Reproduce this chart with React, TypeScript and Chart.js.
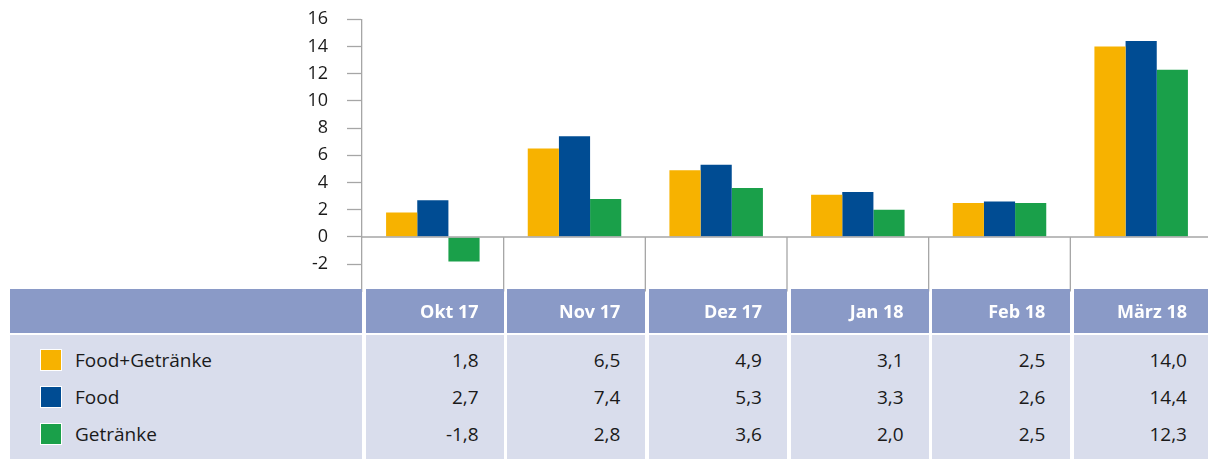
import React, { useEffect, useRef } from 'react';
import { Chart, registerables } from 'chart.js';

Chart.register(...registerables);

const categories = ['Okt 17', 'Nov 17', 'Dez 17', 'Jan 18', 'Feb 18', 'März 18'];
const seriesNames = ['Food+Getränke', 'Food', 'Getränke'];
const foodGetraenke = [1.8, 6.5, 4.9, 3.1, 2.5, 14.0];
const food = [2.7, 7.4, 5.3, 3.3, 2.6, 14.4];
const getraenke = [-1.8, 2.8, 3.6, 2.0, 2.5, 12.3];
const seriesColors = ['#F7B200', '#004C93', '#1AA04A'];
const yMin = -4;
const yMax = 16;
const yStep = 2;

const seriesValues = [foodGetraenke, food, getraenke];

const FONT = '"Open Sans", sans-serif';
const PLOT_LEFT = 362;
const PLOT_RIGHT = 1212;
const PLOT_TOP = 19.3;
const PLOT_BOTTOM = 291.4;
const CANVAS_W = 1214;
const CANVAS_H = 305;
const AXIS_GREY = '#a6a6a6';

const fmt = (v: number) => v.toFixed(1).replace('.', ',');

const separatorPlugin = {
  id: 'catSeparators',
  afterDatasetsDraw(chart: any) {
    const x = chart.scales.x;
    const y = chart.scales.y;
    const ctx = chart.ctx;
    const y0 = y.getPixelForValue(0);
    ctx.save();
    ctx.strokeStyle = AXIS_GREY;
    ctx.lineWidth = 1.3;
    for (let i = 1; i < categories.length; i++) {
      const px = (x.getPixelForTick(i - 1) + x.getPixelForTick(i)) / 2;
      ctx.beginPath();
      ctx.moveTo(px, y0);
      ctx.lineTo(px, chart.chartArea.bottom);
      ctx.stroke();
    }
    ctx.beginPath();
    ctx.moveTo(chart.chartArea.left, y0);
    ctx.lineTo(chart.chartArea.right, y0);
    ctx.stroke();
    ctx.restore();
  },
};

export default function App() {
  const canvasRef = useRef<HTMLCanvasElement | null>(null);

  useEffect(() => {
    const canvas = canvasRef.current;
    if (!canvas) return;
    const chart = new Chart(canvas, {
      type: 'bar',
      data: {
        labels: categories,
        datasets: seriesValues.map((vals, i) => ({
          label: seriesNames[i],
          data: vals,
          backgroundColor: seriesColors[i],
          borderWidth: 0,
          barPercentage: 1,
          categoryPercentage: 0.66,
        })),
      },
      options: {
        animation: false,
        responsive: false,
        devicePixelRatio: 1,
        layout: {
          padding: { top: PLOT_TOP, bottom: CANVAS_H - PLOT_BOTTOM, left: 0, right: CANVAS_W - PLOT_RIGHT },
        },
        plugins: { legend: { display: false }, tooltip: { enabled: false } },
        scales: {
          x: {
            display: false,
          },
          y: {
            min: yMin,
            max: yMax,
            afterFit: (scale: any) => {
              scale.width = PLOT_LEFT;
              scale.paddingTop = 0;
              scale.paddingBottom = 0;
            },
            ticks: {
              stepSize: yStep,
              padding: 19,
              color: '#1a1a1a',
              font: { family: FONT, size: 18 },
              callback: (v: any) => (Number(v) === yMin ? '' : String(v)),
            },
            grid: {
              drawOnChartArea: false,
              tickLength: 15,
              tickWidth: 1.3,
              tickColor: (ctx: any) => (ctx.tick && ctx.tick.value === yMin ? 'rgba(0,0,0,0)' : AXIS_GREY),
            },
            border: { display: true, color: AXIS_GREY, width: 1.3 },
          },
        },
      },
      plugins: [separatorPlugin],
    });
    return () => chart.destroy();
  }, []);

  const catW = (PLOT_RIGHT - PLOT_LEFT) / categories.length;
  const headerTop = 289;
  const headerH = 44;
  const bodyTop = 335;
  const bodyH = 459 - bodyTop;
  const rowCenters = [360, 397, 434];
  const headerBg = '#8A9AC7';
  const bodyBg = '#D9DDEC';

  const colLeft = (i: number) => PLOT_LEFT + i * catW + 3.5;
  const colWidth = (i: number) => catW - 3.5;

  return (
    <div
      style={{
        position: 'fixed',
        left: 0,
        top: 0,
        width: 1208,
        height: 459,
        overflow: 'hidden',
        background: '#ffffff',
        fontFamily: FONT,
      }}
    >
      <canvas
        ref={canvasRef}
        width={CANVAS_W}
        height={CANVAS_H}
        style={{ position: 'absolute', left: 0, top: 0, width: CANVAS_W, height: CANVAS_H }}
      />
      <div
        style={{ position: 'absolute', left: 10, top: headerTop, width: PLOT_LEFT - 10, height: headerH, background: headerBg }}
      />
      {categories.map((c, i) => (
        <div
          key={'h' + c}
          style={{
            position: 'absolute',
            left: colLeft(i),
            top: headerTop,
            width: colWidth(i),
            height: headerH,
            background: headerBg,
            color: '#ffffff',
            fontWeight: 700,
            fontSize: 18,
            lineHeight: headerH + 'px',
            textAlign: 'right',
            paddingRight: 25,
            boxSizing: 'border-box',
            whiteSpace: 'nowrap',
          }}
        >
          {c}
        </div>
      ))}
      <div
        style={{ position: 'absolute', left: 10, top: bodyTop, width: PLOT_LEFT - 10, height: bodyH, background: bodyBg }}
      >
        {seriesNames.map((n, r) => (
          <div
            key={n}
            style={{
              position: 'absolute',
              left: 0,
              top: rowCenters[r] - bodyTop - 15,
              height: 30,
              lineHeight: '30px',
              fontSize: 19,
              color: '#1a1a1a',
              whiteSpace: 'nowrap',
            }}
          >
            <span
              style={{
                position: 'absolute',
                left: 30,
                top: 3.5,
                width: 22,
                height: 22,
                boxSizing: 'border-box',
                border: '1px solid #ffffff',
                background: seriesColors[r],
              }}
            />
            <span style={{ position: 'absolute', left: 65, top: 0 }}>{n}</span>
          </div>
        ))}
      </div>
      {categories.map((c, i) => (
        <div
          key={'b' + c}
          style={{
            position: 'absolute',
            left: colLeft(i),
            top: bodyTop,
            width: colWidth(i),
            height: bodyH,
            background: bodyBg,
          }}
        >
          {seriesValues.map((vals, r) => (
            <div
              key={r}
              style={{
                position: 'absolute',
                right: 25,
                top: rowCenters[r] - bodyTop - 15,
                height: 30,
                lineHeight: '30px',
                fontSize: 19,
                color: '#1a1a1a',
                textAlign: 'right',
                whiteSpace: 'nowrap',
              }}
            >
              {fmt(vals[i])}
            </div>
          ))}
        </div>
      ))}
    </div>
  );
}
